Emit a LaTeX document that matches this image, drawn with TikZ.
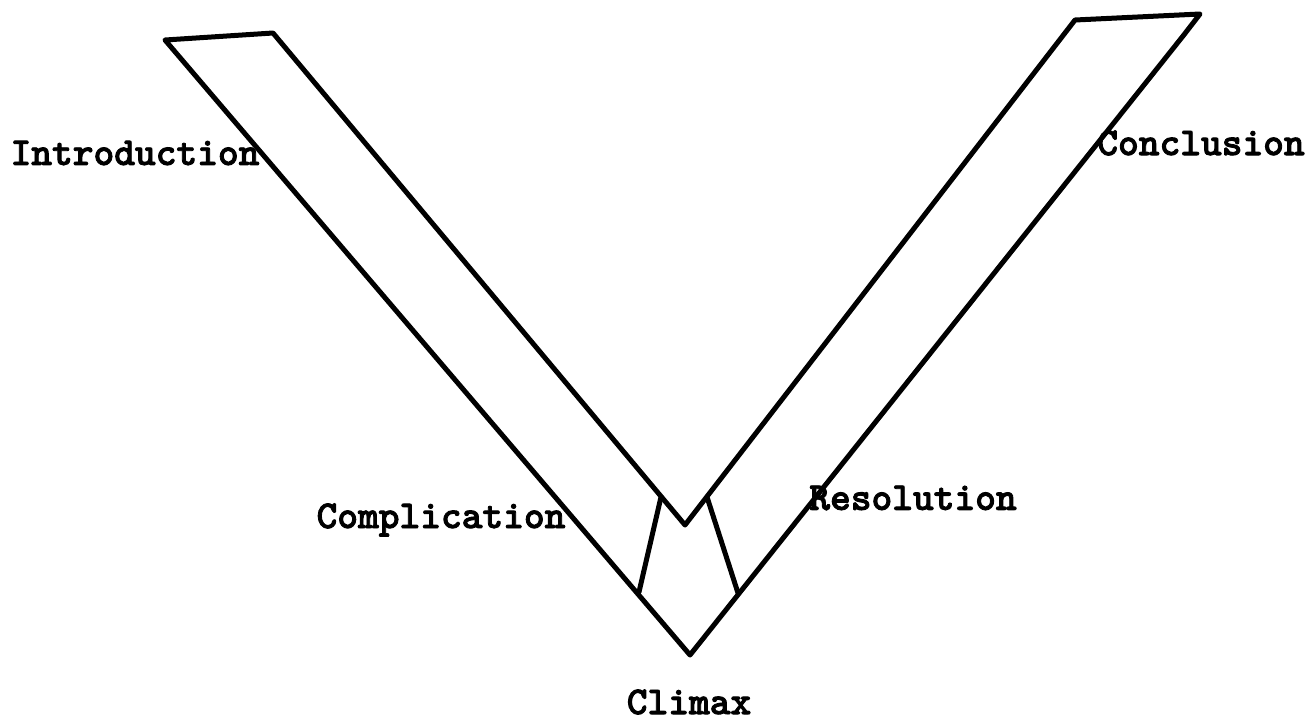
\documentclass[tikz,border=0pt]{standalone}
\usepackage{fontspec}
\newfontfamily\typefont{lmmonolt10-bold.otf}[FakeBold=2.2]
\begin{document}
\begin{tikzpicture}[x=1pt,y=-1pt,
  band/.style={line width=5pt,line join=round,line cap=round},
  lbl/.style={font=\fontsize{39.5}{42}\selectfont\typefont,inner sep=0pt}]
\useasboundingbox (0,0) rectangle (1309,721);
% corners of the two arms
\coordinate (ltl) at (165,40);
\coordinate (ltr) at (273,33);
\coordinate (itip) at (685,525);
\coordinate (otip) at (690,655);
\coordinate (rtl) at (1075,20);
\coordinate (rtr) at (1200,14);
\coordinate (rc) at (1183,36);
% ends of the climax dividers
\coordinate (cdt) at (661,497);
\coordinate (cdb) at (639,592);
\coordinate (rdt) at (707,497);
\coordinate (rdb) at (738,593);
% outline of the V
\draw[band] (ltr) -- (ltl) -- (otip) -- (rc) -- (rtr) -- (rtl) -- (itip) -- cycle;
\draw[band] (cdt) -- (cdb);
\draw[band] (rdt) -- (rdb);
% labels
\node[lbl] (intro) at (135,153) {Introduction};
\node[lbl] (concl) at (1201,143) {Conclusion};
\node[lbl] (compl) at (441,520) {Complication};
\node[lbl] (resol) at (913,498) {Resolution};
\node[lbl] (climax) at (689,702) {Climax};
\end{tikzpicture}
\end{document}
